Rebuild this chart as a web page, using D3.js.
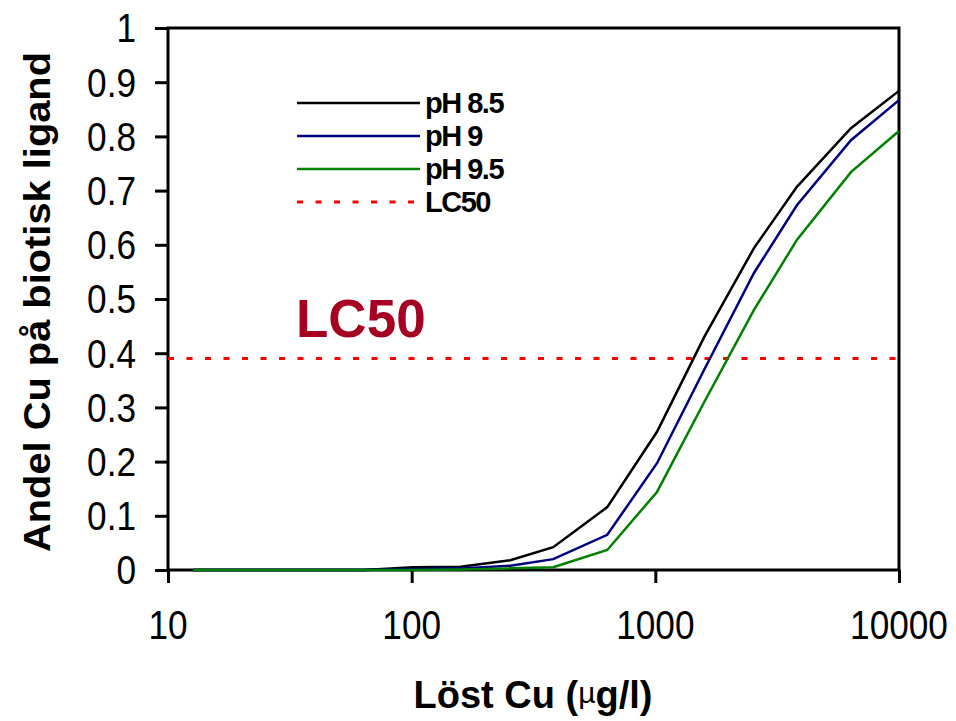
<!DOCTYPE html>
<html>
<head>
<meta charset="utf-8">
<script src="https://cdn.jsdelivr.net/npm/d3@7"></script>
<style>
  body { margin: 0; background: #fff; }
  svg text { font-family: Arial, "Liberation Sans", sans-serif; }
</style>
</head>
<body>
<svg width="956" height="721"></svg>
<script>
// dissolved Cu (ug/l) at each computed point
var cu = [12.7, 63.5, 101.6, 158.8, 254, 381, 635, 1016, 1588, 2540, 3810, 6350, 10000];
// fraction of Cu on the biotic ligand
var ph85 = [0, 0, 0.005, 0.006, 0.018, 0.042, 0.116, 0.255, 0.43, 0.594, 0.707, 0.815, 0.884];
var ph9  = [0, 0, 0.002, 0.003, 0.008, 0.02, 0.065, 0.197, 0.37, 0.548, 0.673, 0.793, 0.867];
var ph95 = [0, 0, 0, 0.001, 0.003, 0.005, 0.037, 0.144, 0.31, 0.48, 0.609, 0.734, 0.81];
var lc50 = 0.39;

var seriesNames = ["pH 8.5", "pH 9", "pH 9.5"];
var seriesColors = ["#000000", "#000080", "#008000"];
var xTicks = [10, 100, 1000, 10000];
var yTicks = [0, 0.1, 0.2, 0.3, 0.4, 0.5, 0.6, 0.7, 0.8, 0.9, 1];

var svg = d3.select("svg");

var x = d3.scaleLog().domain([10, 10000]).range([168, 899]);
var y = d3.scaleLinear().domain([0, 1]).range([570, 28]);

// frame
svg.append("rect")
    .attr("x", x(10)).attr("y", y(1))
    .attr("width", x(10000) - x(10)).attr("height", y(0) - y(1))
    .attr("fill", "none").attr("stroke", "#000").attr("stroke-width", 3);

// axes (ticks only, labels drawn separately so they can be narrowed)
svg.append("g")
    .attr("transform", "translate(" + x(10) + ",0)")
    .call(d3.axisLeft(y).tickValues(yTicks).tickSize(13).tickFormat(""))
    .call(function (g) { g.select(".domain").remove(); })
    .selectAll("line").attr("stroke", "#000").attr("stroke-width", 3);

svg.append("g")
    .attr("transform", "translate(0," + y(0) + ")")
    .call(d3.axisBottom(x).tickValues(xTicks).tickSize(13).tickFormat(""))
    .call(function (g) { g.select(".domain").remove(); })
    .selectAll("line").attr("stroke", "#000").attr("stroke-width", 3);

svg.selectAll(".ylab")
    .data(yTicks)
    .enter().append("text")
    .attr("class", "ylab")
    .attr("transform", function (d) { return "translate(136," + y(d) + ") scale(0.88,1)"; })
    .attr("dy", "0.36em")
    .attr("text-anchor", "end")
    .style("font-size", "40px")
    .text(function (d) { return d === 0 || d === 1 ? String(d) : d3.format(".1f")(d); });

svg.selectAll(".xlab")
    .data(xTicks)
    .enter().append("text")
    .attr("class", "xlab")
    .attr("transform", function (d) { return "translate(" + x(d) + ",639) scale(0.88,1)"; })
    .attr("text-anchor", "middle")
    .style("font-size", "40px")
    .text(function (d) { return d; });

// LC50 level
svg.append("line")
    .attr("x1", x(10)).attr("x2", x(10000))
    .attr("y1", y(lc50)).attr("y2", y(lc50))
    .attr("stroke", "#ff0000").attr("stroke-width", 3)
    .attr("stroke-dasharray", "6,12.5");

svg.append("text")
    .attr("x", 296).attr("y", 337)
    .style("font-size", "53px").style("font-weight", "bold")
    .attr("fill", "#a50021")
    .text("LC50");

// curves
var line = d3.line()
    .x(function (d) { return x(d[0]); })
    .y(function (d) { return y(d[1]); });

[ph85, ph9, ph95].forEach(function (vals, i) {
    svg.append("path")
        .datum(cu.map(function (c, j) { return [c, vals[j]]; }))
        .attr("d", line)
        .attr("fill", "none")
        .attr("stroke", seriesColors[i])
        .attr("stroke-width", 2.5);
});

// legend
var legendItems = seriesNames.map(function (n, i) { return { name: n, color: seriesColors[i], dash: null }; })
    .concat([{ name: "LC50", color: "#ff0000", dash: "6,12.5" }]);

var legend = svg.selectAll(".leg")
    .data(legendItems)
    .enter().append("g")
    .attr("class", "leg")
    .attr("transform", function (d, i) { return "translate(0," + (103 + i * 33) + ")"; });

legend.append("line")
    .attr("x1", 297).attr("x2", 420)
    .attr("stroke", function (d) { return d.color; })
    .attr("stroke-width", function (d) { return d.dash ? 3 : 2.5; })
    .attr("stroke-dasharray", function (d) { return d.dash; });

legend.append("text")
    .attr("x", 425).attr("dy", "0.36em")
    .style("font-size", "29px").style("font-weight", "bold")
    .style("letter-spacing", "-1.5px")
    .text(function (d) { return d.name; });

// axis titles
svg.append("text")
    .attr("transform", "translate(50,302) rotate(-90)")
    .attr("text-anchor", "middle")
    .attr("textLength", 500).attr("lengthAdjust", "spacingAndGlyphs")
    .style("font-size", "37px").style("font-weight", "bold")
    .text("Andel Cu på biotisk ligand");

var xt = svg.append("text")
    .attr("x", 533).attr("y", 708)
    .attr("text-anchor", "middle")
    .style("font-size", "38px").style("font-weight", "bold");
xt.append("tspan").text("Löst Cu (");
xt.append("tspan").attr("dy", -5).style("font-weight", "normal").style("font-size", "30px").text("µ");
xt.append("tspan").attr("dy", 5).text("g/l)");
</script>
</body>
</html>
